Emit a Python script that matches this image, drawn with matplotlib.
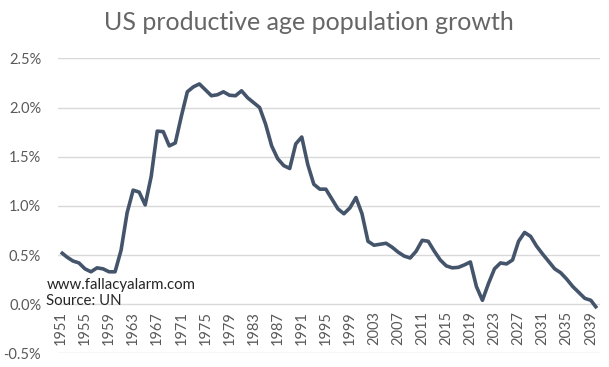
import matplotlib
matplotlib.use("Agg")
from matplotlib import pyplot as plt
import matplotlib.ticker as mticker
import numpy as np

YEARS = np.arange(1951, 2041)

# growth in percent
GROWTH = [
    0.53, 0.48, 0.44, 0.42, 0.36, 0.33, 0.37, 0.36, 0.33, 0.33,  # 1951-1960
    0.55, 0.93, 1.16, 1.14, 1.01, 1.30, 1.76, 1.755, 1.61, 1.64,  # 1961-1970
    1.91, 2.16, 2.21, 2.24, 2.18, 2.12, 2.13, 2.16, 2.125, 2.12,  # 1971-1980
    2.17, 2.10, 2.05, 2.00, 1.83, 1.61, 1.48, 1.41, 1.38, 1.63,   # 1981-1990
    1.70, 1.42, 1.22, 1.17, 1.17, 1.07, 0.97, 0.92, 0.98, 1.085,  # 1991-2000
    0.92, 0.64, 0.60, 0.61, 0.62, 0.58, 0.53, 0.49, 0.47, 0.54,   # 2001-2010
    0.65, 0.64, 0.54, 0.45, 0.39, 0.37, 0.375, 0.40, 0.43, 0.18,  # 2011-2020
    0.04, 0.21, 0.36, 0.42, 0.41, 0.45, 0.64, 0.73, 0.69, 0.59,   # 2021-2030
    0.51, 0.435, 0.36, 0.32, 0.255, 0.18, 0.12, 0.06, 0.04, -0.04 # 2031-2040
]

TICK_YEARS = np.arange(1951, 2041, 4)
TITLE = "US productive age population growth"
NOTE = "www.fallacyalarm.com\nSource: UN"

plt.rcParams['font.family'] = ['Lato', 'DejaVu Sans']

fig = plt.figure(figsize=(6.09, 3.67), dpi=100)
ax = fig.add_axes([0.095, 0.037, 0.89, 0.804])

line_color = '#44546A'
text_color = '#595959'

# x labels sit at the 0% line, like the category axis crossing at zero
for s in ax.spines.values():
    s.set_visible(False)
ax.spines['bottom'].set_position(('data', 0))

ax.plot(YEARS, GROWTH, color=line_color, linewidth=2.6, solid_joinstyle='round',
        solid_capstyle='butt', zorder=3)

ax.set_xlim(1950.5, 2040.5)
ax.set_ylim(-0.5, 2.5)
ax.yaxis.set_major_locator(mticker.MultipleLocator(0.5))
ax.yaxis.set_major_formatter(mticker.FuncFormatter(lambda v, p: f"{v:.1f}%"))
ax.set_xticks(TICK_YEARS)
ax.set_xticklabels([str(y) for y in TICK_YEARS], rotation=90)

ax.grid(axis='y', color='#D9D9D9', linewidth=1.0)
ax.set_axisbelow(True)

ax.tick_params(axis='both', length=0, labelsize=10.5, labelcolor=text_color)
ax.tick_params(axis='x', pad=5)
ax.tick_params(axis='y', pad=12)

fig.text(0.507, 0.94, TITLE, ha='center', va='center', fontsize=18,
         color='#666666')
fig.text(0.076, 0.202, NOTE, ha='left', va='center', fontsize=10.8,
         color='#262626', linespacing=1.2)

fig.savefig('out.png', dpi=100)
